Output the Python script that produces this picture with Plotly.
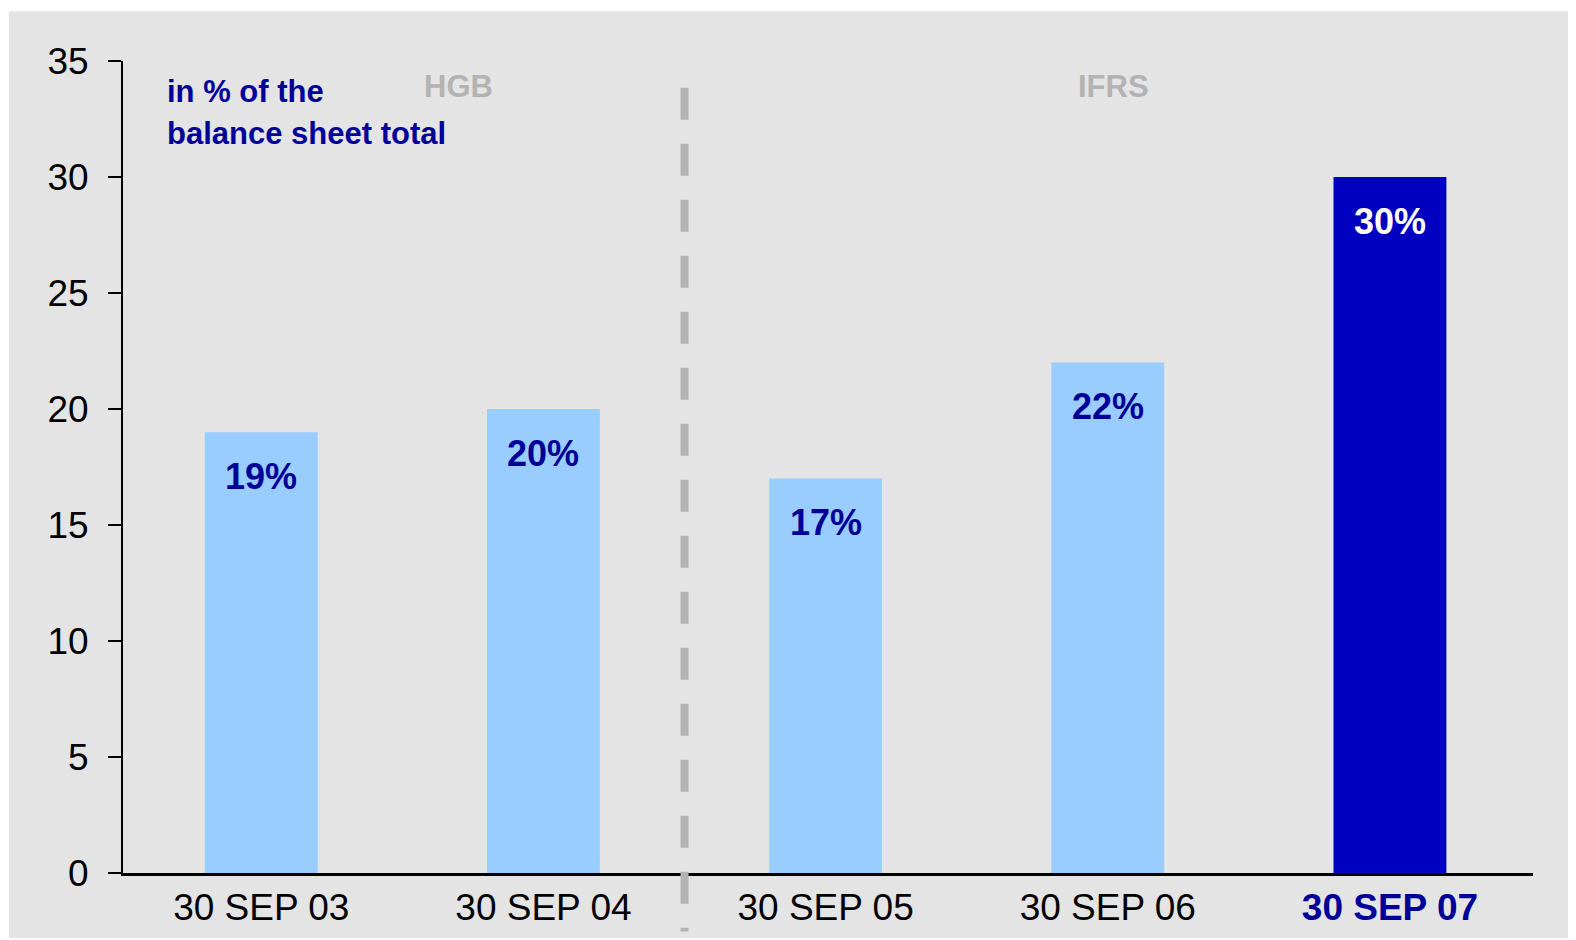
import plotly.graph_objects as go

categories = ["30 SEP 03", "30 SEP 04", "30 SEP 05", "30 SEP 06", "30 SEP 07"]
values = [19, 20, 17, 22, 30]
value_labels = ["19%", "20%", "17%", "22%", "30%"]
bar_colors = ["#99ccff", "#99ccff", "#99ccff", "#99ccff", "#0000c0"]
label_colors = ["#000099", "#000099", "#000099", "#000099", "#ffffff"]
y_ticks = [0, 5, 10, 15, 20, 25, 30, 35]
section_labels = ["HGB", "IFRS"]
section_pos = [0.7, 3.02]
note_lines = ["in % of the", "balance sheet total"]
divider_pos = 1.5

FONT = "Arial, Liberation Sans, sans-serif"
NAVY = "#000099"

xs = list(range(len(categories)))
ticktext = categories[:-1] + [f"<b><span style='color:{NAVY}'>{categories[-1]}</span></b>"]

fig = go.Figure()
fig.add_trace(go.Bar(
    x=xs, y=values, marker=dict(color=bar_colors, line=dict(width=0)),
    width=0.4, hoverinfo="skip", showlegend=False,
))

# data labels
for x, v, t, c in zip(xs, values, value_labels, label_colors):
    fig.add_annotation(x=x, y=v, text=f"<b>{t}</b>", showarrow=False,
                       yanchor="middle", yshift=-44,
                       font=dict(family=FONT, size=36, color=c))

# section labels
for s, p in zip(section_labels, section_pos):
    fig.add_annotation(x=p, y=35, yref="y", text=f"<b>{s}</b>", showarrow=False,
                       yanchor="middle", yshift=-25,
                       font=dict(family=FONT, size=31, color="#b3b3b3"))

# note (two lines)
for i, line in enumerate(note_lines):
    fig.add_annotation(x=-0.34, y=35, xanchor="left", yanchor="middle",
                       yshift=-30 - 42 * i, text=f"<b>{line}</b>", showarrow=False,
                       align="left", font=dict(family=FONT, size=31, color=NAVY))

# gray panel background
fig.add_shape(type="rect", xref="paper", yref="paper",
              x0=-0.0809, x1=1.04, y0=-0.08, y1=1.0613,
              fillcolor="#e4e4e4", line=dict(width=0), layer="below")

# dashed divider (extends below the x axis)
fig.add_shape(type="line", xref="x", yref="paper", x0=divider_pos, x1=divider_pos,
              y0=0.967, y1=-0.072, line=dict(color="#b3b3b3", width=8, dash="32px,24px"),
              layer="above")

fig.update_layout(
    width=1568, height=932,
    margin=dict(l=115, r=43, t=53, b=63),
    paper_bgcolor="white", plot_bgcolor="rgba(0,0,0,0)",
    font=dict(family=FONT, size=37, color="black"),
    bargap=0.6,
)
fig.update_xaxes(range=[-0.49, 4.507], tickvals=xs, ticktext=ticktext,
                 showgrid=False, zeroline=False, showline=True, linecolor="black",
                 linewidth=3, ticks="",
                 tickfont=dict(size=37, color="black"))
fig.update_yaxes(range=[0, 35], tickvals=y_ticks, showgrid=False, zeroline=False,
                 showline=True, linecolor="black", linewidth=2, ticks="outside",
                 ticklen=13, tickwidth=2, tickcolor="black", ticklabelstandoff=12,
                 tickfont=dict(size=37, color="black"))

fig.write_html("out.html")
